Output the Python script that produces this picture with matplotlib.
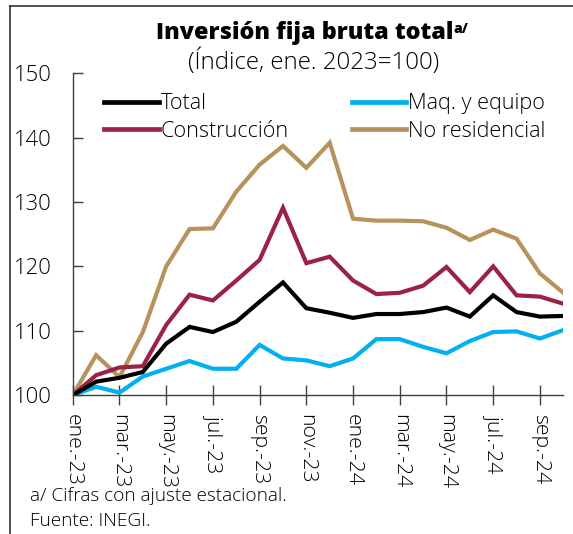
import matplotlib
matplotlib.use("Agg")
import matplotlib.pyplot as plt
from matplotlib.lines import Line2D

plt.rcParams['font.family'] = ['Open Sans', 'Noto Sans', 'DejaVu Sans']

months = ['ene.-23', 'feb.-23', 'mar.-23', 'abr.-23', 'may.-23', 'jun.-23', 'jul.-23', 'ago.-23',
          'sep.-23', 'oct.-23', 'nov.-23', 'dic.-23', 'ene.-24', 'feb.-24', 'mar.-24', 'abr.-24',
          'may.-24', 'jun.-24', 'jul.-24', 'ago.-24', 'sep.-24', 'oct.-24']

total = [100, 102.1, 102.7, 103.6, 108.0, 110.6, 109.8, 111.4, 114.5, 117.5, 113.5, 112.8,
         112.0, 112.6, 112.6, 112.9, 113.6, 112.2, 115.5, 112.9, 112.2, 112.3]
maq = [100, 101.3, 100.4, 102.9, 104.1, 105.3, 104.1, 104.1, 107.8, 105.7, 105.4, 104.5,
       105.7, 108.7, 108.7, 107.5, 106.5, 108.4, 109.8, 109.9, 108.8, 110.1]
construccion = [100, 103.1, 104.3, 104.5, 110.9, 115.6, 114.7, 117.8, 121.0, 129.1, 120.5, 121.5,
                117.8, 115.7, 115.9, 117.0, 119.9, 116.0, 120.0, 115.5, 115.3, 114.2]
no_residencial = [100, 106.2, 102.8, 109.8, 120.0, 125.8, 125.9, 131.6, 135.8, 138.7, 135.3, 139.2,
                  127.4, 127.1, 127.1, 127.0, 126.0, 124.1, 125.7, 124.3, 118.9, 115.9]

c_total = '#000000'
c_maq = '#00B0F0'
c_con = '#9C2149'
c_nores = '#B8925C'

fig = plt.figure(figsize=(5.73, 5.34), dpi=100)
ax = fig.add_axes([0.127, 0.260, 0.856, 0.603])

x = list(range(len(months)))
lw = 3.0
l_nr, = ax.plot(x, no_residencial, color=c_nores, lw=lw, label='No residencial', solid_joinstyle='miter')
l_co, = ax.plot(x, construccion, color=c_con, lw=lw, label='Construcción', solid_joinstyle='miter')
l_mq, = ax.plot(x, maq, color=c_maq, lw=lw, label='Maq. y equipo', solid_joinstyle='miter')
l_to, = ax.plot(x, total, color=c_total, lw=lw, label='Total', solid_joinstyle='miter')

ax.set_xlim(0, 21.0)
ax.set_ylim(100, 150)
ax.set_yticks([100, 110, 120, 130, 140, 150])
ax.set_xticks(x[::2])
ax.set_xticklabels(months[::2], rotation=270, fontsize=15.3, va='top', ha='center', fontweight='light')
for lbl in ax.get_yticklabels():
    lbl.set_fontweight('light')

for s in ['top', 'right']:
    ax.spines[s].set_visible(False)
for s in ['left', 'bottom']:
    ax.spines[s].set_color('#404040')
    ax.spines[s].set_linewidth(1.0)

ax.tick_params(axis='y', direction='in', length=7, width=1, colors='#404040', labelcolor='black',
               labelsize=15.8, pad=15)
ax.tick_params(axis='x', direction='inout', length=15, width=1, colors='#404040', labelcolor='black',
               pad=6)

leg = ax.legend(handles=[l_to, l_co, l_mq, l_nr], ncol=2, frameon=False, loc='upper left',
                bbox_to_anchor=(0.047, 0.964), handlelength=2.5, handletextpad=0.1,
                columnspacing=2.9, labelspacing=0.3, borderaxespad=0,
                prop={'size': 15.6, 'weight': 'light'})
for h in leg.legend_handles:
    h.set_linewidth(3.4)

t = fig.text(0.532, 0.938, 'Inversión fija bruta total', ha='center', va='center',
             fontsize=16.8, fontweight='heavy')
ax.annotate('a/', xy=(1, 0.95), xycoords=t, fontsize=10, fontweight='heavy', va='top', ha='left')
fig.text(0.547, 0.884, '(Índice, ene. 2023=100)', ha='center', va='center', fontsize=17.3,
         fontweight='light')

fig.text(0.052, 0.071, 'a/ Cifras con ajuste estacional.', ha='left', va='center', fontsize=13.7,
         fontweight='light')
fig.text(0.052, 0.024, 'Fuente: INEGI.', ha='left', va='center', fontsize=13.7, fontweight='light')

# frame lines (left and top)
fig.add_artist(Line2D([0.018, 0.018], [0.0, 0.989], color='#333333', lw=1.2, transform=fig.transFigure))
fig.add_artist(Line2D([0.018, 1.0], [0.989, 0.989], color='#333333', lw=1.2, transform=fig.transFigure))

fig.savefig('out.png', dpi=100)
